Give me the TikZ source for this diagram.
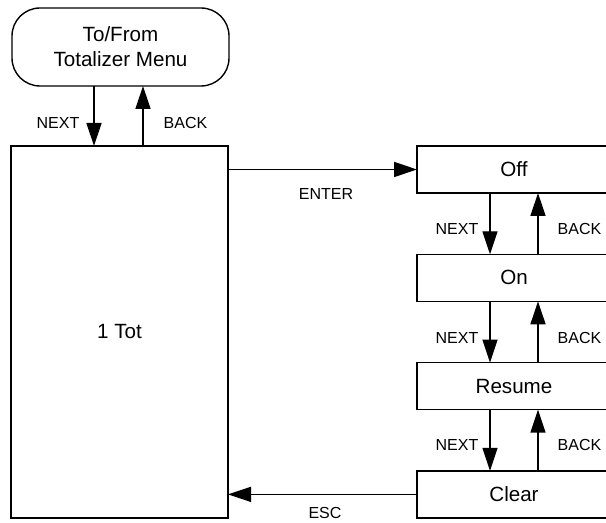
\documentclass[tikz,border=0pt]{standalone}
\usepackage{fontspec}
\setmainfont{Liberation Sans}
\usepackage{tikz}
\usetikzlibrary{arrows.meta, positioning, calc}

\begin{document}
\begin{tikzpicture}[
    x=0.5pt, y=-0.5pt,
    line width=0.7pt,
    box/.style={draw, line width=0.7pt, inner sep=0pt, outer sep=0pt, align=center,
        font=\fontsize{10.3}{12.4}\selectfont},
    pill/.style={box, rounded corners=14pt, minimum width=108.5pt, minimum height=39pt},
    bigbox/.style={box, minimum width=108.5pt, minimum height=186pt},
    stbox/.style={box, minimum width=97pt, minimum height=23.5pt},
    flow/.style={-{Triangle[length=11.5pt, width=7.5pt]}, line width=0.7pt},
    lbl/.style={font=\fontsize{8}{9.6}\selectfont, inner sep=0pt},
]
\useasboundingbox (0,0) rectangle (606,523);
\clip (0,0) rectangle (606,523);

% cajas
\node[pill] (menu) at (120.5,47) {To/From\\Totalizer Menu};
\node[bigbox] (tot) at (119.5,332) {1 Tot};
\foreach \n/\t [count=\i from 0] in {off/Off, on/On, resume/Resume, clear/Clear}
    \node[stbox] (\n) at (514,{169.5+108.3*\i}) {\t};

% columnas de flechas
\coordinate (nl) at (94,0);
\coordinate (bl) at (143,0);
\coordinate (nr) at (490,0);
\coordinate (br) at (538,0);

% menu <-> 1 Tot
\draw[flow] (menu.south -| nl) -- (tot.north -| nl);
\draw[flow] (tot.north -| bl) -- (menu.south -| bl);
\node[lbl, anchor=east] (nextm) at (80,123) {NEXT};
\node[lbl, anchor=west] (backm) at (163,123) {BACK};

% NEXT / BACK entre estados
\foreach \a/\b/\y in {off/on/229, on/resume/338, resume/clear/445} {
    \draw[flow] (\a.south -| nr) -- (\b.north -| nr);
    \draw[flow] (\b.north -| br) -- (\a.south -| br);
    \node[lbl, anchor=east] (next-\a) at (479,\y) {NEXT};
    \node[lbl, anchor=west] (back-\a) at (557,\y) {BACK};
}

% ENTER / ESC
\draw[flow] (tot.east |- off) -- (off.west);
\node[lbl] (enter) at (326,194) {ENTER};
\draw[flow] (clear.west) -- (tot.east |- clear);
\node[lbl] (esc) at (325,513) {ESC};

\end{tikzpicture}
\end{document}
